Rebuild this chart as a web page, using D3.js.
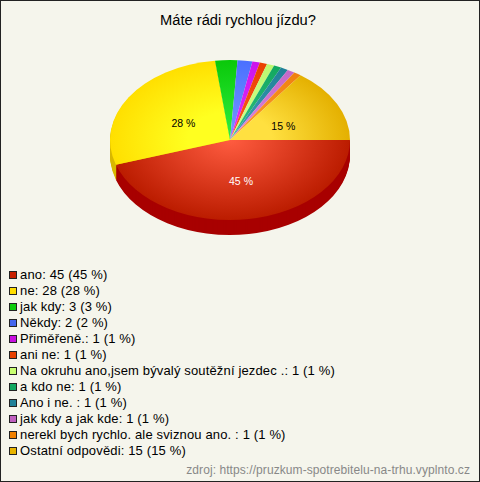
<!DOCTYPE html>
<html><head><meta charset="utf-8">
<script src="https://cdn.jsdelivr.net/npm/d3@7"></script>
<style>html,body{margin:0;padding:0;background:#f5f5ec}svg{display:block}text{font-family:"Liberation Sans",Arial,sans-serif}</style>
</head><body><script>
const categories=["ano","ne","jak kdy","Někdy","Přiměřeně.","ani ne","Na okruhu ano,jsem bývalý soutěžní jezdec .","a kdo ne","Ano i ne. ","jak kdy a jak kde","nerekl bych rychlo. ale sviznou ano. ","Ostatní odpovědi"];
const values=[45,28,3,2,1,1,1,1,1,1,1,15];
const percents=[45,28,3,2,1,1,1,1,1,1,1,15];
const swatchColors=["#c82000","#ffdd00","#0ccc0c","#4466ee","#c810e0","#e84000","#c8ff70","#10a860","#208098","#c060c0","#f08000","#e8b400"];
const edgeColors=["#bb1c00","#ffdf00","#0ac80a","#4a70ff","#cc14ec","#ea4000","#bcf870","#12a860","#208098","#c468c8","#f08010","#e4b000"];
const centerColors=["#ff5c40","#ffff20","#30f040","#7898ff","#e030ff","#ff5a20","#d8ff90","#30c080","#40a0b8","#e088e0","#ffa030","#ffe040"];
const sideColors=["#a80000","#d8b800"];
const title="Máte rádi rychlou jízdu?";
const source="zdroj: https://pruzkum-spotrebitelu-na-trhu.vyplnto.cz";
const W=480,H=482,cx=230,cy=140,rx=120,ry=80,depth=15;
const svg=d3.select("body").append("svg").attr("width",W).attr("height",H);
svg.append("rect").attr("x",.5).attr("y",.5).attr("width",W-1).attr("height",H-1).attr("fill","#f5f5ec").attr("stroke","#222");
svg.append("text").attr("x",238).attr("y",25).attr("text-anchor","middle").attr("font-size",14.7).attr("fill","#000").text(title);
const pie=d3.pie().sort(null).startAngle(Math.PI/2).endAngle(Math.PI*2.5);
const arcs=pie(values);
const arc=d3.arc().innerRadius(0).outerRadius(1);
const defs=svg.append("defs");
arcs.forEach((d,i)=>{
  const g=defs.append("radialGradient").attr("id","g"+i).attr("gradientUnits","userSpaceOnUse").attr("cx",0).attr("cy",0).attr("r",1);
  g.append("stop").attr("offset",0).attr("stop-color",centerColors[i]);
  if(i===1||i===11) g.append("stop").attr("offset",.35).attr("stop-color",centerColors[i]);
  g.append("stop").attr("offset",1).attr("stop-color",edgeColors[i]);
});
const chart=svg.append("g");
d3.range(depth,0,-1).forEach(k=>{
  chart.append("g").attr("transform",`translate(${cx},${cy+k}) scale(${rx},${ry})`)
    .selectAll("path").data(arcs.slice(0,2)).join("path").attr("d",arc).attr("fill",(d,i)=>sideColors[i]);
});
chart.append("g").attr("transform",`translate(${cx},${cy}) scale(${rx},${ry})`)
  .selectAll("path").data(arcs).join("path").attr("d",arc).attr("fill",(d,i)=>`url(#g${i})`);
const labelArc=d3.arc().innerRadius(.48).outerRadius(.48);
arcs.forEach((d,i)=>{
  if(values[i]<10)return;
  const c=labelArc.centroid(d);
  svg.append("text").attr("x",cx+c[0]*rx+2).attr("y",cy+c[1]*ry+7.5).attr("text-anchor","middle").attr("font-size",10.5)
    .attr("fill",i===0?"#fff":"#000").text(percents[i]+" %");
});
const rowY=d3.scalePoint().domain(d3.range(categories.length)).range([275,451]);
const leg=svg.append("g").selectAll("g").data(categories).join("g").attr("transform",(d,i)=>`translate(0,${rowY(i)})`);
leg.append("rect").attr("x",9.5).attr("y",-3.5).attr("width",7).attr("height",7).attr("fill",(d,i)=>swatchColors[i]).attr("stroke","#222").attr("stroke-width",1);
leg.append("text").attr("x",20).attr("y",4).attr("font-size",13).attr("letter-spacing",.15).attr("fill","#000").text((d,i)=>`${d}: ${values[i]} (${percents[i]} %)`);
svg.append("text").attr("x",470).attr("y",474).attr("text-anchor","end").attr("font-size",12).attr("letter-spacing",.08).attr("fill","#888").text(source);
</script></body></html>
